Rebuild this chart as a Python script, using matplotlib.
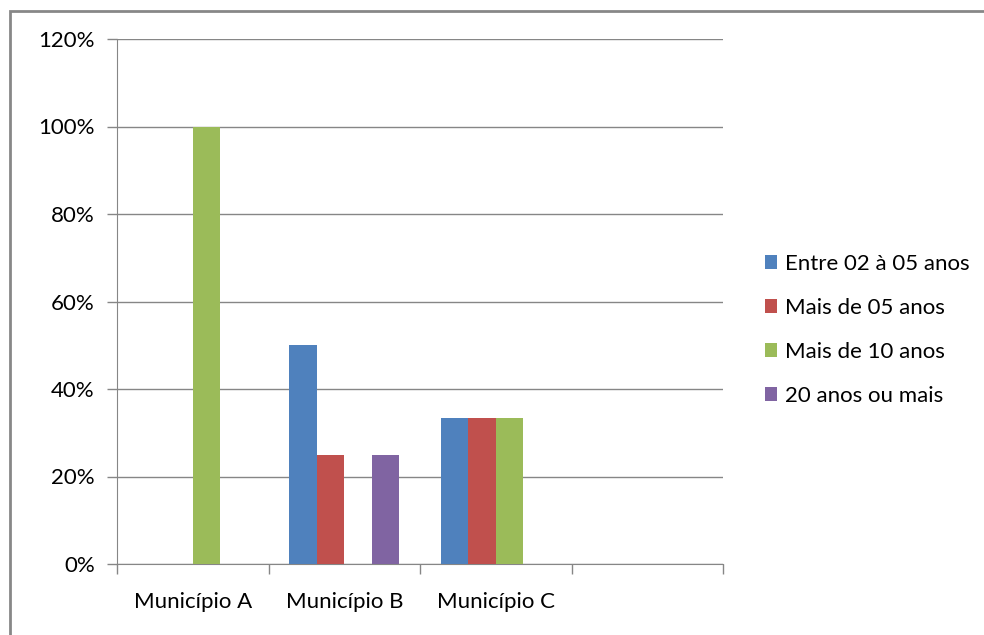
import numpy as np
import matplotlib.pyplot as plt
from matplotlib.patches import Rectangle

categories = ["Município A", "Município B", "Município C", ""]
series_names = ["Entre 02 à 05 anos", "Mais de 05 anos", "Mais de 10 anos", "20 anos ou mais"]
entre_02_05 = [0, 50, 33.3, 0]
mais_05 = [0, 25, 33.3, 0]
mais_10 = [100, 0, 33.3, 0]
anos_20 = [0, 25, 0, 0]
colors = ["#4F81BD", "#C0504D", "#9BBB59", "#8064A2"]

plt.rcParams['font.family'] = ['Lato', 'DejaVu Sans']

W, H = 984, 635
fig = plt.figure(figsize=(W / 100, H / 100), dpi=100)
ax = fig.add_axes([117 / W, 1 - 564 / H, (723 - 117) / W, (564 - 39) / H])

grid_c = "#868686"
x = np.arange(len(categories))
bar_w = 1 / 5.5
values = [entre_02_05, mais_05, mais_10, anos_20]
for i, (name, vals, c) in enumerate(zip(series_names, values, colors)):
    offs = (i - 1.5) * bar_w
    ax.bar(x + offs, vals, width=bar_w, color=c, label=name, zorder=3, linewidth=0)

ax.set_xlim(-0.5, len(categories) - 0.5)
ax.set_ylim(0, 120)
ax.set_yticks(range(0, 121, 20))
ax.set_yticklabels([f"{v}%" for v in range(0, 121, 20)])
ax.set_xticks(np.arange(-0.5, len(categories), 1))
ax.set_xticklabels([])
ax.set_xticks(x, minor=True)
ax.set_xticklabels(categories, minor=True)
ax.tick_params(axis='x', which='minor', length=0, pad=20, labelsize=16)
ax.tick_params(axis='x', which='major', length=7, color=grid_c, width=1)
ax.tick_params(axis='y', length=7, color=grid_c, width=1, labelsize=16, pad=9)

ax.grid(axis='y', color=grid_c, linewidth=1, zorder=0)
for s in ['top', 'right']:
    ax.spines[s].set_visible(False)
ax.spines['left'].set_color(grid_c)
ax.spines['bottom'].set_color(grid_c)

leg = ax.legend(loc='center left', bbox_to_anchor=(745 / W, 1 - 330 / H),
                bbox_transform=fig.transFigure, frameon=False, fontsize=16,
                handlelength=0.55, handleheight=0.55, handletextpad=0.35,
                labelspacing=1.08)

fig.patches.append(Rectangle((10 / W, -0.1), 1.2, 1 - 11 / H + 0.1, transform=fig.transFigure,
                             fill=False, edgecolor="#878787", linewidth=2))

fig.savefig("out.png", dpi=100)
